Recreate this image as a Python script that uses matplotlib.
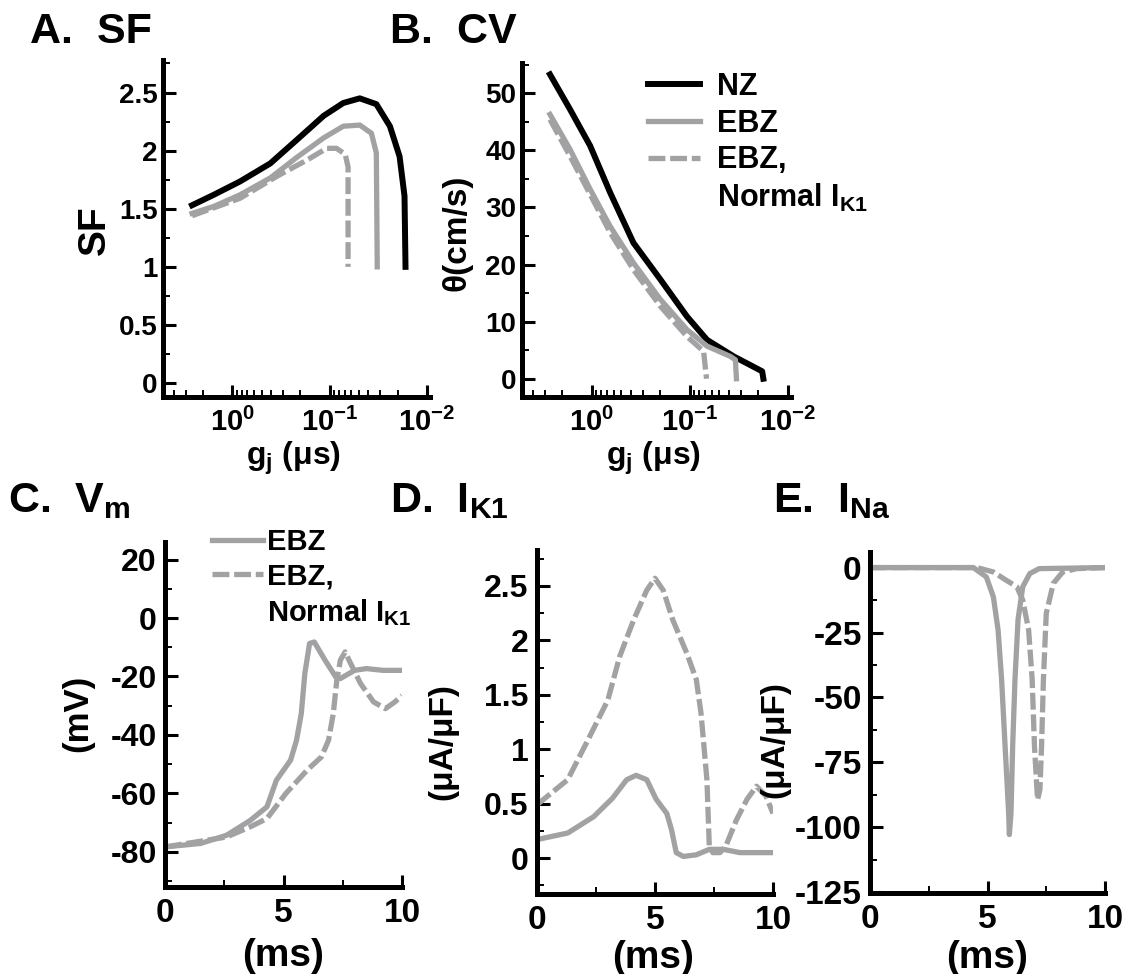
import matplotlib
matplotlib.use('Agg')
import matplotlib.pyplot as plt
from matplotlib.lines import Line2D
from matplotlib import ticker

plt.rcParams['font.family'] = ['Liberation Sans', 'DejaVu Sans']
plt.rcParams['font.weight'] = 'bold'
plt.rcParams['axes.labelweight'] = 'bold'
plt.rcParams['mathtext.fontset'] = 'custom'
plt.rcParams['mathtext.rm'] = 'Liberation Sans:bold'
plt.rcParams['mathtext.bf'] = 'Liberation Sans:bold'
plt.rcParams['mathtext.it'] = 'Liberation Sans:bold'
plt.rcParams['mathtext.default'] = 'bf'
plt.rcParams['axes.unicode_minus'] = False

W, H = 1128, 974
GRAY = '#a2a2a4'
DASH = (0, (3.2, 0.9))
LW_K = 4.3
LW_G = 3.8

# A. safety factor vs gap junction conductance (uS)
gj_sf_nz = [2.59, 1.55, 0.832, 0.407, 0.219, 0.115, 0.0724, 0.049, 0.0331, 0.024, 0.0191, 0.0170, 0.0166]
sf_nz = [1.53, 1.62, 1.735, 1.89, 2.09, 2.30, 2.41, 2.45, 2.40, 2.21, 1.95, 1.61, 1.0]
gj_sf_ebz = [2.59, 1.55, 0.832, 0.407, 0.219, 0.115, 0.0724, 0.049, 0.0372, 0.0331, 0.0324]
sf_ebz = [1.46, 1.52, 1.62, 1.765, 1.94, 2.11, 2.21, 2.22, 2.15, 1.98, 1.0]
gj_sf_nik1 = [2.59, 0.832, 0.347, 0.170, 0.107, 0.0851, 0.0692, 0.0646, 0.0646]
sf_nik1 = [1.44, 1.59, 1.78, 1.92, 2.02, 2.02, 1.97, 1.86, 1.0]

# B. conduction velocity (cm/s)
gj_cv_nz = [2.67, 1.67, 1.04, 0.650, 0.376, 0.200, 0.107, 0.0667, 0.0356, 0.0183, 0.0178]
cv_nz = [53.3, 47.2, 40.8, 32.6, 23.8, 17.4, 10.9, 6.8, 3.9, 1.3, 0.0]
gj_cv_ebz = [2.67, 1.67, 1.04, 0.650, 0.376, 0.200, 0.107, 0.0667, 0.0385, 0.0343, 0.0335]
cv_ebz = [46.3, 40.2, 33.2, 26.7, 20.3, 13.9, 8.6, 5.7, 3.9, 3.3, 0.0]
gj_cv_nik1 = [2.67, 1.67, 1.04, 0.650, 0.376, 0.200, 0.107, 0.0724, 0.0676]
cv_nik1 = [45.4, 39.0, 32.3, 25.6, 19.1, 12.7, 7.4, 4.8, 0.0]

# C. membrane potential (mV)
t_vm_ebz = [0, 1.5, 2.6, 3.6, 4.3, 4.7, 5.3, 5.55, 5.75, 5.9, 6.1, 6.3, 6.75, 7.2, 7.4, 8.0, 8.5, 9.2, 10]
vm_ebz = [-78.3, -77.1, -74.3, -69.2, -64.6, -55.5, -48.6, -41.8, -32.7, -19, -8.7, -8.2, -14.4,
          -20.1, -20.7, -17.9, -17.3, -17.9, -17.9]
t_vm_nik1 = [0, 2.6, 3.6, 4.3, 5.1, 6.0, 6.6, 6.9, 7.1, 7.25, 7.4, 7.6, 7.8, 8.25, 8.8, 9.3, 9.7, 10]
vm_nik1 = [-78.3, -74.9, -71.4, -68.6, -60, -52, -47.5, -41.8, -32.7, -21.3, -14.4, -11.6, -15,
           -22.4, -28.7, -31, -28.7, -26.5]

# D. IK1 (uA/uF)
t_ik1_ebz = [0, 1.3, 2.4, 3.2, 3.8, 4.2, 4.65, 5.05, 5.5, 5.7, 5.9, 6.2, 6.75, 7.3, 7.9, 8.6, 10]
ik1_ebz = [0.17, 0.23, 0.38, 0.55, 0.72, 0.76, 0.72, 0.54, 0.41, 0.26, 0.05, 0.015, 0.03, 0.08, 0.08, 0.05, 0.05]
t_ik1_nik1 = [0, 1.3, 2.1, 3.0, 3.5, 4.1, 4.65, 5.0, 5.35, 5.75, 6.35, 6.75, 6.95, 7.2, 7.3, 7.45,
              7.75, 8.0, 8.45, 8.9, 9.3, 9.7, 10]
ik1_nik1 = [0.49, 0.72, 1.06, 1.45, 1.85, 2.19, 2.46, 2.57, 2.46, 2.19, 1.88, 1.64, 1.33, 0.72, 0.11,
            0.05, 0.05, 0.11, 0.35, 0.54, 0.66, 0.57, 0.41]

# E. INa (uA/uF)
t_ina_ebz = [0, 4.4, 4.95, 5.25, 5.45, 5.6, 5.75, 5.9, 5.93, 6.0, 6.07, 6.17, 6.3, 6.5, 6.8, 7.2, 10]
ina_ebz = [0, 0, -3.6, -11.3, -24, -43, -69, -94.5, -102.8, -94.5, -69, -43, -20, -7.4, -2.3, -0.4, 0]
t_ina_nik1 = [0, 4.55, 5.25, 5.8, 6.25, 6.5, 6.75, 6.9, 7.0, 7.13, 7.23, 7.3, 7.38, 7.5, 7.8, 8.2, 8.8, 10]
ina_nik1 = [0, 0, -1.7, -4.9, -7.4, -12.5, -24, -43, -69, -89.4, -85.5, -69, -43, -17.7, -6.1, -1.7, -0.4, 0]

fig = plt.figure(figsize=(W / 100, H / 100), dpi=100)


def px_axes(left, right, top, bottom):
    return fig.add_axes([left / W, 1 - bottom / H, (right - left) / W, (bottom - top) / H])


def style(ax, size):
    for s in ['top', 'right']:
        ax.spines[s].set_visible(False)
    for s in ['left', 'bottom']:
        ax.spines[s].set_linewidth(3.6)
    ax.tick_params(which='major', direction='in', length=9, width=2.2, labelsize=size)
    ax.tick_params(which='minor', direction='in', length=5, width=1.4)


def labels(ax, xl, xpos, xs, yl, ypos, ys):
    ax.set_xlabel(xl, fontsize=xs, ha='center', va='center')
    ax.xaxis.set_label_coords(xpos[0] / W, 1 - xpos[1] / H, transform=fig.transFigure)
    ax.set_ylabel(yl, fontsize=ys, ha='center', va='center')
    ax.yaxis.set_label_coords(ypos[0] / W, 1 - ypos[1] / H, transform=fig.transFigure)


def log_axis(ax):
    ax.set_xscale('log')
    ax.set_xlim(5.15, 0.0093)
    ax.set_xticks([1, 0.1, 0.01])
    ax.set_xticklabels(['$10^{0}$', '$10^{-1}$', '$10^{-2}$'])
    ax.xaxis.set_minor_locator(ticker.LogLocator(base=10, subs=range(2, 10), numticks=20))
    ax.xaxis.set_minor_formatter(ticker.NullFormatter())
    ax.tick_params(axis='x', which='major', pad=8, labelsize=21)
    ax.tick_params(axis='y', which='major', pad=4)


def time_axis(ax):
    ax.set_xlim(0, 10)
    ax.set_xticks([0, 5, 10])
    ax.xaxis.set_minor_locator(ticker.MultipleLocator(2.5))
    ax.tick_params(axis='x', which='major', pad=8, labelsize=24)
    ax.tick_params(axis='y', which='major', pad=6)


# ---- A
axA = px_axes(163, 430, 60, 397)
style(axA, 20)
log_axis(axA)
axA.plot(gj_sf_nz, sf_nz, color='black', lw=LW_K)
axA.plot(gj_sf_ebz, sf_ebz, color=GRAY, lw=LW_G)
axA.plot(gj_sf_nik1, sf_nik1, color=GRAY, lw=LW_G, linestyle=DASH)
axA.set_ylim(-0.12, 2.78)
axA.set_yticks([0, 0.5, 1, 1.5, 2, 2.5])
axA.yaxis.set_major_formatter(ticker.FormatStrFormatter('%g'))
axA.yaxis.set_minor_locator(ticker.MultipleLocator(0.25))
labels(axA, 'g$_{j}$ (μs)', (293, 458), 23, 'SF', (95, 230), 28)

# ---- B
axB = px_axes(522, 791, 63, 397)
style(axB, 20)
log_axis(axB)
hNZ, = axB.plot(gj_cv_nz, cv_nz, color='black', lw=LW_K)
hEBZ, = axB.plot(gj_cv_ebz, cv_ebz, color=GRAY, lw=LW_G)
hN, = axB.plot(gj_cv_nik1, cv_nik1, color=GRAY, lw=LW_G, linestyle=DASH)
axB.set_ylim(-3.2, 55.3)
axB.set_yticks([0, 10, 20, 30, 40, 50])
axB.yaxis.set_minor_locator(ticker.MultipleLocator(5))
labels(axB, 'g$_{j}$ (μs)', (653, 458), 23, 'θ(cm/s)', (457, 233), 24)
blank = Line2D([], [], color='none')
axB.legend([hNZ, hEBZ, hN, blank], ['NZ', 'EBZ', 'EBZ,', 'Normal I$_{K1}$'],
           loc='upper left', bbox_to_anchor=(648 / W, 1 - 72 / H), bbox_transform=fig.transFigure,
           frameon=False, fontsize=22, handlelength=1.7, handletextpad=0.55,
           labelspacing=0.22, borderpad=0, borderaxespad=0)

# ---- C
axC = px_axes(165, 402, 542, 887)
style(axC, 23)
time_axis(axC)
axC.plot(t_vm_ebz, vm_ebz, color=GRAY, lw=LW_G)
axC.plot(t_vm_nik1, vm_nik1, color=GRAY, lw=LW_G, linestyle=DASH)
axC.set_ylim(-92, 26)
axC.set_yticks([-80, -60, -40, -20, 0, 20])
axC.yaxis.set_minor_locator(ticker.MultipleLocator(10))
labels(axC, '(ms)', (283, 956), 28, '(mV)', (78, 713), 25)
cE, = axC.plot([], [], color=GRAY, lw=LW_G)
cN, = axC.plot([], [], color=GRAY, lw=LW_G, linestyle=DASH)
axC.legend([cE, cN, blank], ['EBZ', 'EBZ,', 'Normal I$_{K1}$'],
           loc='upper left', bbox_to_anchor=(212 / W, 1 - 528 / H), bbox_transform=fig.transFigure,
           frameon=False, fontsize=21, handlelength=1.75, handletextpad=0.12,
           labelspacing=0.22, borderpad=0, borderaxespad=0)

# ---- D
axD = px_axes(537, 773, 550, 894)
style(axD, 23)
time_axis(axD)
axD.plot(t_ik1_ebz, ik1_ebz, color=GRAY, lw=LW_G)
axD.plot(t_ik1_nik1, ik1_nik1, color=GRAY, lw=LW_G, linestyle=DASH)
axD.set_ylim(-0.33, 2.83)
axD.set_yticks([0, 0.5, 1, 1.5, 2, 2.5])
axD.yaxis.set_major_formatter(ticker.FormatStrFormatter('%g'))
axD.yaxis.set_minor_locator(ticker.MultipleLocator(0.25))
labels(axD, '(ms)', (653, 958), 28, '(μA/μF)', (443, 742), 24)

# ---- E
axE = px_axes(870, 1105, 552, 893)
style(axE, 24)
time_axis(axE)
axE.plot(t_ina_ebz, ina_ebz, color=GRAY, lw=LW_G)
axE.plot(t_ina_nik1, ina_nik1, color=GRAY, lw=LW_G, linestyle=DASH)
axE.set_ylim(-125.3, 6)
axE.set_yticks([-125, -100, -75, -50, -25, 0])
axE.yaxis.set_minor_locator(ticker.MultipleLocator(12.5))
labels(axE, '(ms)', (987, 958), 28, '(μA/μF)', (775, 740), 24)

# panel titles
for txt, x, y in [('A.  SF', 30, 43), ('B.  CV', 390, 43), ('C.  V$_{m}$', 8, 512),
                  ('D.  I$_{K1}$', 390, 512), ('E.  I$_{Na}$', 773, 512)]:
    fig.text(x / W, 1 - y / H, txt, fontsize=31, fontweight='bold', ha='left', va='baseline')

fig.savefig('out.png', dpi=100)
